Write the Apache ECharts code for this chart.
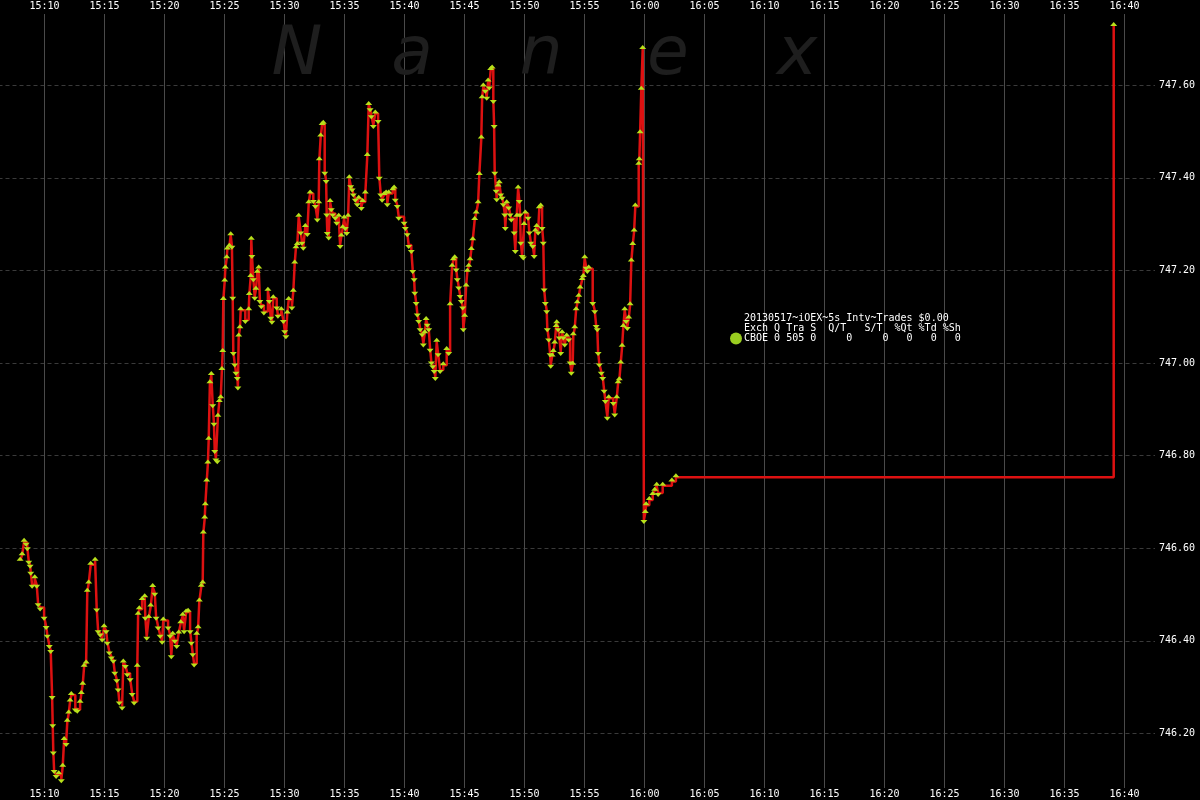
<!DOCTYPE html>
<html><head><meta charset="utf-8">
<script src="https://cdn.jsdelivr.net/npm/echarts@6/dist/echarts.min.js"></script>
<style>html,body{margin:0;padding:0;background:#000;}#c{width:1200px;height:800px;}</style>
</head><body><div id="c"></div>
<script>
// trade times: seconds after 15:00:00
const tradeSec = [
478,488,498,508,514,521,528,531,538,551,561,568,578,598,608,614,624,631,638,641,644,648,658,671,684,691,698,708,714,721,728,734,754,764,778,784,791,798,808,814,821,831,853,861,868,878,888,898,908,914,924,934,944,951,961,968,974,988,994,1004,1014,1028,1038,1048,1064,1068,1074,1088,1101,1104,1111,1121,1131,1141,1151,1158,1168,1178,1188,1194,1218,1228,1234,1241,1251,1261,1271,1281,1291,1298,1308,1318,1328,1334,1341,1348,1361,1368,1374,1384,1391,
1394,1401,1404,1411,1417,1421,1427,1434,1441,1447,1451,1457,1464,1467,1474,1481,1487,1491,1494,1501,1504,1511,1514,1524,1531,1537,1541,1544,1551,1557,1564,1567,1571,1577,1581,1604,1621,1624,1631,1634,1637,1644,1651,1657,1664,1671,1677,1684,1697,1717,1724,1731,1737,1744,1761,1767,1784,1794,1801,1807,1814,1821,1837,1844,1851,1857,1864,1871,1881,1887,1894,1904,1914,
1921,1928,1944,1954,1964,1971,1974,1981,1988,1994,2001,2008,2011,2014,2021,2028,2034,2041,2054,2061,2071,2078,2084,2091,2098,2104,2111,2118,2124,2131,2138,2144,2154,2164,2171,2184,2191,2204,2214,2221,2228,2234,2244,2254,2268,2274,2281,2288,2298,2308,2314,2321,2341,2348,2354,2364,2371,2398,2404,2414,2421,2434,2441,2448,2451,2458,2464,2471,2478,2488,2494,2501,2508,2514,2521,2528,2534,2541,2548,2554,2561,2568,2578,2594,2611,2621,2628,2638,2644,2651,2658,2664,2671,2678,2684,2691,2694,2701,2708,2714,2721,2728,2734,2741,2751,2758,2768,2774,
2784,2788,2794,2804,2811,2818,2824,2831,2838,2844,2848,2851,2858,2861,2868,2874,2881,2888,2894,2901,2904,2911,2921,2928,2934,2948,2954,2961,2968,2974,2978,2981,2988,2994,2998,3004,3018,3024,3031,3041,3048,3054,3061,3068,3074,3081,3088,3094,3098,3104,3111,3114,3121,3128,3131,3138,3144,3151,3158,3161,3168,3174,3181,3188,3194,3201,3211,3221,3228,3234,3241,3244,3251,3258,3264,3271,3278,3288,3294,3301,3308,3314,3321,3341,3351,3358,3364,3368,3374,3384,3391,3398,3404,3414,3421,3444,3451,3461,3468,3474,3481,3488,3494,3501,3508,3514,3521,3528,3534,3541,3548,3554,3571,3574,3578,3584,3591,
3597,3604,3608,3624,3641,3651,3661,3668,3691,3737,3757,5946
];
// trade prices
const tradePx = [
746.573,746.585,746.614,746.612,746.602,746.573,746.564,746.549,746.521,746.535,746.521,746.481,746.472,746.452,746.432,746.413,746.391,746.380,746.281,746.220,746.161,746.121,746.110,746.112,746.101,746.128,746.186,746.179,746.225,746.243,746.269,746.283,746.254,746.251,746.266,746.285,746.305,746.344,746.351,746.506,746.524,746.564,746.573,746.470,746.423,746.416,746.405,746.429,746.423,746.398,746.377,746.366,746.359,746.333,746.317,746.297,746.269,746.258,746.353,746.348,746.330,746.319,746.287,746.269,746.344,746.456,746.468,746.488,746.494,746.452,746.409,746.449,746.474,746.516,746.504,746.452,746.431,746.413,746.400,746.444,746.431,746.413,746.369,746.413,746.402,746.391,746.416,746.438,746.454,746.423,746.461,746.463,746.423,746.398,746.373,746.351,746.413,746.427,746.485,746.517,746.524,
746.632,746.664,746.693,746.744,746.783,746.834,746.956,746.974,746.911,746.871,746.812,746.794,746.790,746.884,746.916,746.924,746.985,747.024,747.136,747.176,747.204,747.226,747.245,747.251,747.276,747.253,747.143,747.024,746.999,746.981,746.970,746.949,747.057,747.075,747.114,747.093,747.114,747.147,747.186,747.266,747.233,747.183,747.143,747.158,747.195,747.204,747.136,747.125,747.111,747.156,747.136,747.100,747.091,747.140,747.122,747.104,747.114,747.093,747.071,747.060,747.107,747.136,747.122,747.154,747.215,747.248,747.255,747.316,747.284,747.262,747.251,747.294,747.281,
747.345,747.366,747.352,747.341,747.312,747.345,747.438,747.489,747.514,747.517,747.413,747.395,747.323,747.283,747.273,747.348,747.334,747.323,747.316,747.305,747.316,747.255,747.273,747.291,747.312,747.294,747.283,747.316,747.399,747.384,747.377,747.366,747.355,747.345,747.355,747.337,747.348,747.366,747.447,747.557,747.550,747.535,747.514,747.539,747.525,747.402,747.366,747.355,747.363,747.366,747.345,747.366,747.373,747.377,747.355,747.341,747.316,747.305,747.294,747.280,747.255,747.244,747.201,747.183,747.154,747.132,747.107,747.093,747.075,747.064,747.042,747.064,747.093,747.085,747.075,747.031,747.003,746.995,746.985,746.970,747.046,747.021,746.985,746.995,747.028,747.024,747.125,747.208,747.222,747.226,747.204,747.183,747.165,747.147,747.136,747.122,747.075,747.100,747.165,747.197,747.208,747.222,747.244,747.265,747.309,747.323,747.345,747.406,
747.485,747.572,747.597,747.590,747.575,747.608,747.597,747.633,747.636,747.568,747.514,747.413,747.374,747.356,747.381,747.388,747.366,747.359,747.345,747.323,747.294,747.345,747.338,747.323,747.312,747.284,747.244,747.316,747.377,747.352,747.323,747.262,747.233,747.230,747.298,747.323,747.316,747.284,747.262,747.255,747.233,747.284,747.294,747.284,747.334,747.338,747.294,747.262,747.161,747.132,747.114,747.075,747.053,747.021,746.996,747.014,747.024,747.042,747.078,747.086,747.075,747.057,747.024,747.064,747.057,747.042,747.057,747.053,747.003,746.981,746.996,747.060,747.075,747.114,747.129,747.143,747.161,747.179,747.186,747.226,747.208,747.201,747.204,747.132,747.114,747.082,747.075,747.024,746.999,746.981,746.970,746.942,746.920,746.884,746.924,746.916,746.891,746.924,746.956,746.963,746.999,747.035,747.078,747.114,747.093,747.078,747.096,747.125,747.219,747.255,747.284,747.338,747.428,747.438,747.496,747.590,747.678,
746.661,746.676,746.693,746.704,746.715,746.724,746.735,746.719,746.735,746.744,746.753,747.728
];
const timeMin = 300, timeMax = 6152.5, timeStep = 300;   // 15:05 .. ~16:42:30, ticks every 5 min
const priceMin = 746.0, priceMax = 747.8, priceStep = 0.2;
const legendTitle = "20130517~iOEX~5s Intv~Trades $0.00";
const legendHead  = "Exch Q Tra S  Q/T   S/T  %Qt %Td %Sh";
const legendRow   = "CBOE 0 505 0     0     0   0   0   0";
const watermark = ["N","a","n","e","x"];

function clock(s){ const m=Math.round(s/60); const h=15+Math.floor(m/60); return h+':'+String(m%60).padStart(2,'0'); }

const dirs = [];
tradePx.forEach((p,i)=>{ if(i===0){dirs.push(1);return;} const d=p-tradePx[i-1]; dirs.push(d>0?1:(d<0?-1:dirs[i-1])); });
const seriesData = tradeSec.map((s,i)=>({
  value:[s,tradePx[i]],
  symbolRotate: dirs[i]<0?180:0,
  symbolOffset: [0, dirs[i]<0?2:-2]
}));

const FONT = '"DejaVu Sans Mono", monospace';
const chart = echarts.init(document.getElementById('c'), null, {renderer:'canvas'});
const wmX = [297,412,541,668,797];
const graphics = watermark.map((ch,i)=>({
  type:'text', x: wmX[i], y: 56, z: 1, silent:true,
  style:{text:ch, font:'italic 68px "DejaVu Sans"', fill:'#1e1e1e', textAlign:'center', textVerticalAlign:'middle'}
}));
[legendTitle, legendHead, legendRow].forEach((t,i)=>{
  graphics.push({type:'text', x:744, y:318+i*10, z:5, silent:true,
    style:{text:t, font:'10px '+FONT, fill:'#ffffff', textAlign:'left', textVerticalAlign:'middle'}});
});
graphics.push({type:'circle', shape:{cx:736, cy:338.5, r:6}, z:5, silent:true, style:{fill:'#9acd20'}});

chart.setOption({
  backgroundColor:'#000000',
  animation:false,
  grid:[
    {left:-15.5, right:45, top:-7.4, bottom:-26, outerBoundsMode:'none', containLabel:false},
    {left:-15.5, right:45, top:14, bottom:12, outerBoundsMode:'none', containLabel:false}
  ],
  xAxis:[
    {gridIndex:0, type:'value', min:timeMin, max:timeMax, show:false},
    {gridIndex:1, type:'value', position:'top', min:timeMin, max:timeMax, interval:timeStep,
      axisLine:{show:false}, axisTick:{show:false},
      axisLabel:{color:'#ffffff', fontFamily:FONT, fontSize:10, margin:3, formatter:clock, showMinLabel:false, showMaxLabel:false},
      splitLine:{show:true, showMinLine:false, showMaxLine:false, lineStyle:{color:'#4a4a4a', width:1}}},
    {gridIndex:1, type:'value', position:'bottom', min:timeMin, max:timeMax, interval:timeStep,
      axisLine:{show:false}, axisTick:{show:false},
      axisLabel:{color:'#ffffff', fontFamily:FONT, fontSize:10, margin:1, formatter:clock, showMinLabel:false, showMaxLabel:false},
      splitLine:{show:false}}
  ],
  yAxis:[
    {gridIndex:0, type:'value', position:'right', min:priceMin, max:priceMax, interval:priceStep,
      axisLine:{show:false}, axisTick:{show:false},
      axisLabel:{color:'#ffffff', fontFamily:FONT, fontSize:10, margin:4, formatter:v=>v.toFixed(2), showMinLabel:false, showMaxLabel:false},
      splitLine:{show:true, showMinLine:false, showMaxLine:false, lineStyle:{color:'#3a3a3a', type:[4,3], width:1}}},
    {gridIndex:1, type:'value', min:0, max:1, show:false}
  ],
  graphic: graphics,
  series:[{
    type:'line', xAxisIndex:0, yAxisIndex:0, step:'end', z:3,
    data: seriesData,
    symbol:'triangle', symbolSize:[7,4], showAllSymbol:true,
    lineStyle:{color:'#dd1111', width:2.5},
    itemStyle:{color:'#b8e01a'},
    emphasis:{disabled:true}, silent:true
  }]
});
</script></body></html>
